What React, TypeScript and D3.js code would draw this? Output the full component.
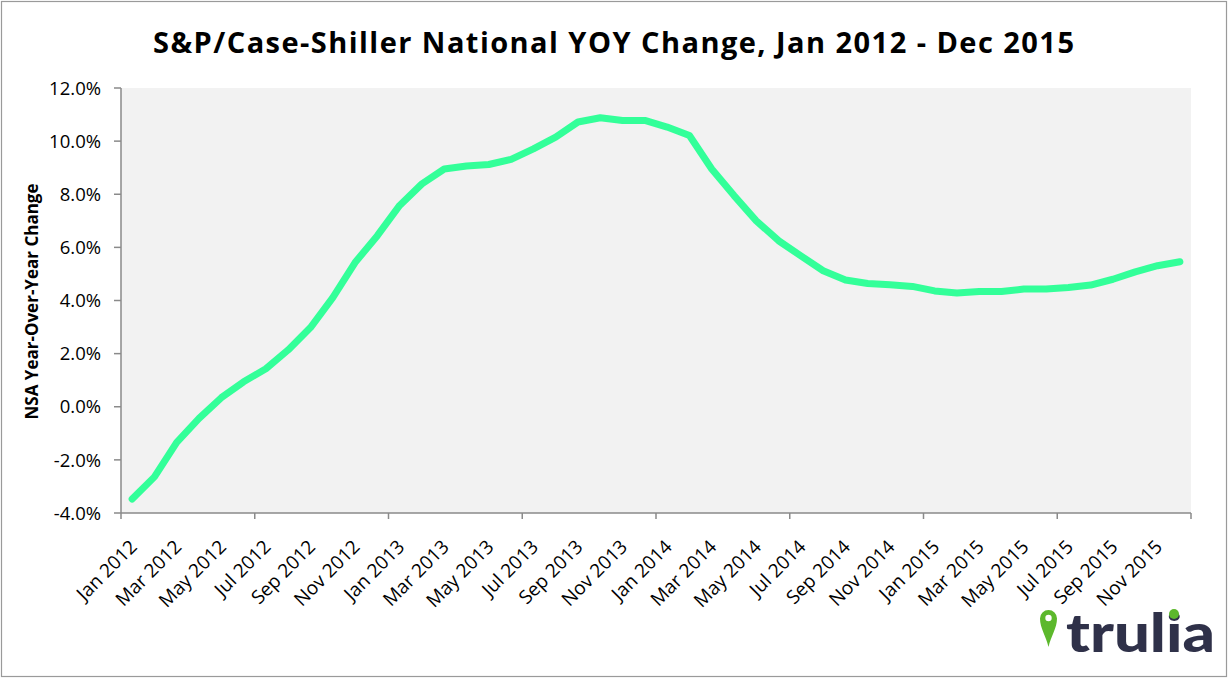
import React from "react";
import * as d3 from "d3";

const months = [
  "Jan 2012","Feb 2012","Mar 2012","Apr 2012","May 2012","Jun 2012","Jul 2012","Aug 2012","Sep 2012","Oct 2012","Nov 2012","Dec 2012",
  "Jan 2013","Feb 2013","Mar 2013","Apr 2013","May 2013","Jun 2013","Jul 2013","Aug 2013","Sep 2013","Oct 2013","Nov 2013","Dec 2013",
  "Jan 2014","Feb 2014","Mar 2014","Apr 2014","May 2014","Jun 2014","Jul 2014","Aug 2014","Sep 2014","Oct 2014","Nov 2014","Dec 2014",
  "Jan 2015","Feb 2015","Mar 2015","Apr 2015","May 2015","Jun 2015","Jul 2015","Aug 2015","Sep 2015","Oct 2015","Nov 2015","Dec 2015",
];

const yoyChange = [
  -3.47, -2.64, -1.34, -0.44, 0.34, 0.94, 1.43, 2.14, 2.98, 4.11, 5.43, 6.44,
  7.58, 8.39, 8.95, 9.06, 9.12, 9.31, 9.71, 10.15, 10.72, 10.88, 10.78, 10.78,
  10.53, 10.21, 8.95, 7.95, 7.0, 6.25, 5.68, 5.12, 4.77, 4.64, 4.59, 4.53,
  4.36, 4.28, 4.34, 4.34, 4.43, 4.43, 4.49, 4.58, 4.8, 5.08, 5.31, 5.46,
];

const yTicks = [-4, -2, 0, 2, 4, 6, 8, 10, 12];

const title = "S&P/Case-Shiller National YOY Change, Jan 2012 - Dec 2015";
const yAxisTitle = "NSA Year-Over-Year Change";

const W = 1228;
const H = 678;
const left = 121, right = 1191, top = 88, bottom = 513;
const FONT = "'Open Sans', sans-serif";
const AXIS = "#8a8a8a";

export default function App() {
  const idx = months.map((_, i) => i);
  const x = d3.scaleBand<number>().domain(idx).range([left, right]).padding(0);
  const bw = x.bandwidth();
  const cx = (i: number) => (x(i) as number) + bw / 2;
  const y = d3.scaleLinear().domain([-4, 12]).range([bottom, top]);

  const line = d3
    .line<number>()
    .x((_, i) => cx(i))
    .y((d) => y(d));

  const majorTicks = d3.range(0, months.length + 1, 6).map((k) => left + k * bw);
  const labelIdx = idx.filter((i) => i % 2 === 0);

  return (
    <svg
      width={W}
      height={H}
      style={{ position: "absolute", left: 0, top: 0, background: "#fff" }}
      fontFamily={FONT}
    >
      <rect x={1.5} y={1.5} width={W - 3} height={H - 3} fill="#fff" stroke="#9a9a9a" strokeWidth={1.2} />

      <text
        x={153}
        y={53}
        fontWeight="bold"
        fontSize={29}
        fill="#000"
        textLength={921}
        lengthAdjust="spacing"
      >
        {title}
      </text>

      <rect x={left} y={top} width={right - left} height={bottom - top} fill="#f2f2f2" />

      {/* y axis */}
      <line x1={left} x2={left} y1={top} y2={bottom} stroke={AXIS} strokeWidth={1.5} />
      {yTicks.map((t) => (
        <g key={t}>
          <line x1={left - 7} x2={left} y1={y(t)} y2={y(t)} stroke={AXIS} strokeWidth={1.5} />
          <text x={101} y={y(t)} dy="0.36em" textAnchor="end" fontSize={18.5} fill="#000">
            {t.toFixed(1) + "%"}
          </text>
        </g>
      ))}
      <text
        transform={`translate(32, ${(top + bottom) / 2 + 1}) rotate(-90)`}
        dy="0.36em"
        textAnchor="middle"
        fontWeight="bold"
        fontSize={17}
        fill="#000"
      >
        {yAxisTitle}
      </text>

      {/* x axis */}
      <line x1={left} x2={right} y1={bottom} y2={bottom} stroke={AXIS} strokeWidth={1.5} />
      {majorTicks.map((t, k) => (
        <line key={k} x1={t} x2={t} y1={bottom} y2={bottom + 6} stroke={AXIS} strokeWidth={1.5} />
      ))}
      {labelIdx.map((i) => (
        <text
          key={i}
          transform={`translate(${cx(i) + 6}, ${bottom + 35}) rotate(-45)`}
          textAnchor="end"
          fontSize={19}
          fill="#000"
        >
          {months[i]}
        </text>
      ))}

      <path
        d={line(yoyChange) || ""}
        fill="none"
        stroke="#33ff99"
        strokeWidth={7}
        strokeLinejoin="round"
        strokeLinecap="round"
      />

      {/* trulia logo */}
      <g>
        <path
          d="M1048.5,647 C1046,636 1040,628 1040,618.5 A8.5,8.5 0 1 1 1057,618.5 C1057,628 1051,636 1048.5,647 Z"
          fill="#5cb82c"
        />
        <circle cx={1048.5} cy={618} r={3.2} fill="#fff" />
        <text
          x={1066}
          y={652}
          fontFamily="Lato, 'Open Sans', sans-serif"
          fontWeight="900"
          fontSize={54}
          fill="#2f3149"
          textLength={149}
          lengthAdjust="spacingAndGlyphs"
        >
          trulia
        </text>
        <circle cx={1174} cy={614} r={5} fill="#5cb82c" />
      </g>
    </svg>
  );
}
